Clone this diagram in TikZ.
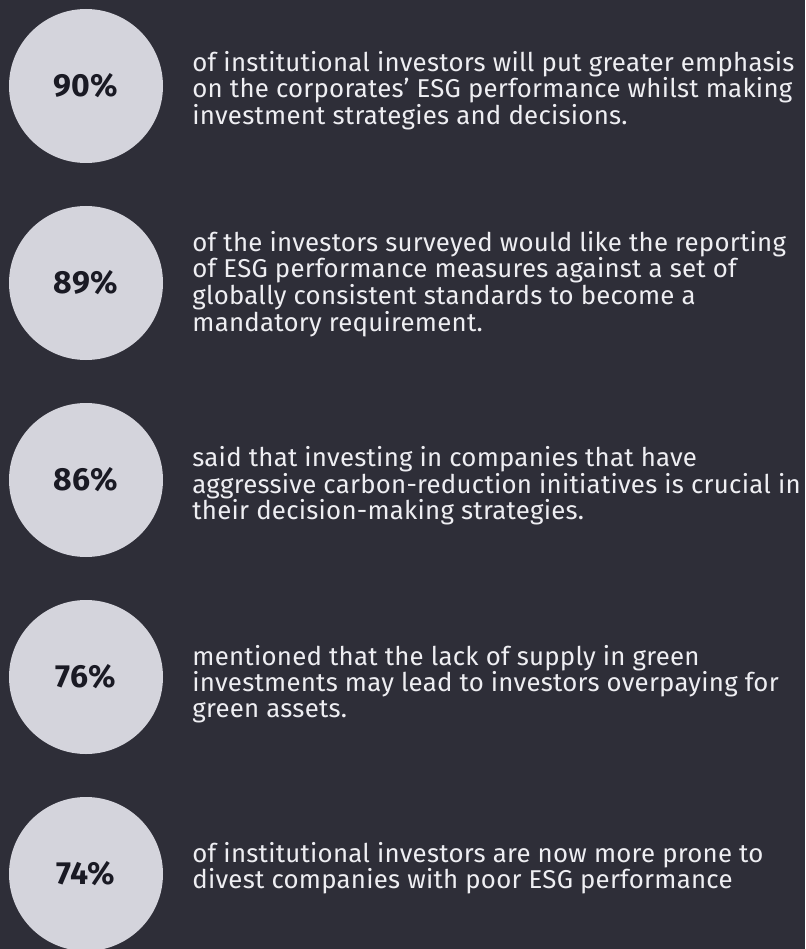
\documentclass[tikz,border=0pt]{standalone}
\usepackage{fontspec}
\setmainfont{Fira Sans}[LetterSpace=1.0]
\usepackage{tikz}
\usetikzlibrary{positioning}
\definecolor{panel}{HTML}{2E2E38}
\definecolor{disc}{HTML}{D4D4DC}
\definecolor{ink}{HTML}{1A1A24}
\definecolor{note}{HTML}{EEEEF2}
\tikzstyle{stat_circle} = [circle, fill=disc, minimum size=154pt, inner sep=0pt, text=ink, font=\fontsize{32}{32}\selectfont\bfseries]
\tikzstyle{stat_text} = [anchor=west, inner sep=0pt, align=left, text=note, font=\fontsize{25.8}{25.5}\selectfont]

\begin{document}
\begin{tikzpicture}[node distance=197pt]
				\useasboundingbox (0,0) rectangle (805pt,-949pt);
				\fill[panel] (0,0) rectangle (805pt,-949pt);
				
				% circles
				\node[stat_circle] (c90) at (86pt,-86pt) {90\%};
				\node[stat_circle, below of=c90] (c89) {89\%};
				\node[stat_circle, below of=c89] (c86) {86\%};
				\node[stat_circle, below of=c86] (c76) {76\%};
				\node[stat_circle, below of=c76] (c74) {74\%};
				
				% texts
				\node[stat_text, right=29pt of c90, yshift=-4.4pt] (t90) {of institutional investors will put greater emphasis\\on the corporates’ ESG performance whilst making\\investment strategies and decisions.};
				\node[stat_text, right=29pt of c89, yshift=-0.8pt] (t89) {of the investors surveyed would like the reporting\\of ESG performance measures against a set of\\globally consistent standards to become a\\mandatory requirement.};
				\node[stat_text, right=29pt of c86, yshift=-6pt] (t86) {said that investing in companies that have\\aggressive carbon-reduction initiatives is crucial in\\their decision-making strategies.};
				\node[stat_text, right=29pt of c76, yshift=-6.8pt] (t76) {mentioned that the lack of supply in green\\investments may lead to investors overpaying for\\green assets.};
				\node[stat_text, right=29pt of c74, yshift=6pt] (t74) {of institutional investors are now more prone to\\divest companies with poor ESG performance};
\end{tikzpicture}
\end{document}
